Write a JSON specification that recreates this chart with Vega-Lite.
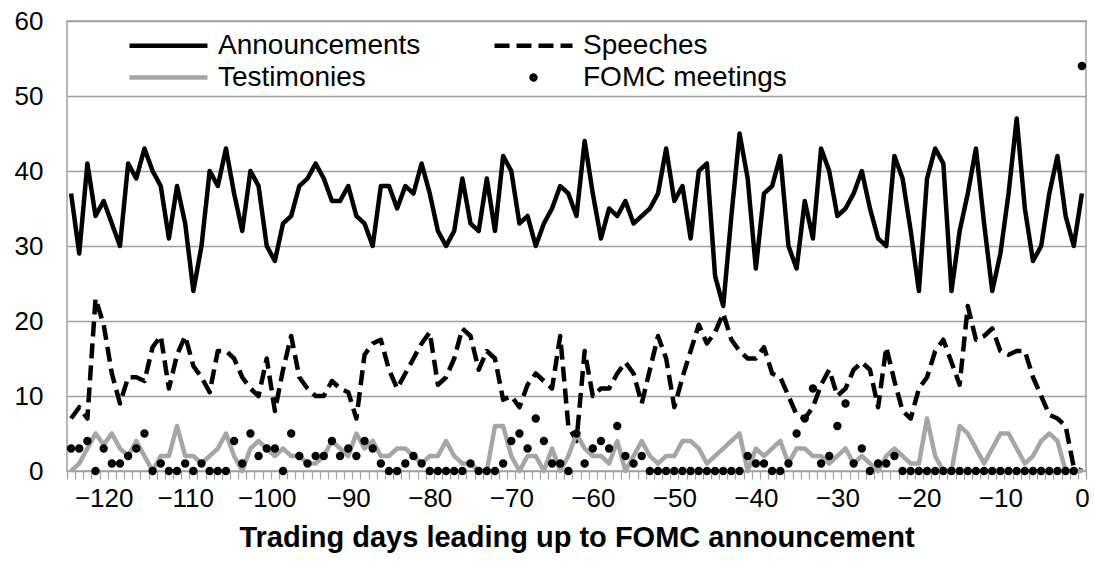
{
  "$schema": "https://vega.github.io/schema/vega-lite/v6.json",
  "width": 1019,
  "height": 450,
  "autosize": {"type": "none"},
  "padding": {"left": 67, "top": 21, "right": 8, "bottom": 96},
  "background": "white",
  "config": {
    "font": "Liberation Sans",
    "view": {"stroke": "#a0a0a0", "strokeWidth": 1.5},
    "axis": {"labelFont": "Liberation Sans", "titleFont": "Liberation Sans", "labelColor": "black", "titleColor": "black"},
    "legend": {
      "labelFont": "Liberation Sans",
      "title": null,
      "orient": "none",
      "legendX": 84,
      "legendY": 7,
      "direction": "horizontal",
      "columns": 2,
      "columnPadding": 64,
      "rowPadding": 0,
      "padding": 0,
      "labelFontSize": 28,
      "labelColor": "black",
      "labelOffset": 32,
      "symbolSize": 900,
      "symbolStrokeWidth": 4.5,
      "labelLimit": 400
    }
  },
  "data": {
    "values": [
      {"d":-124,"A":37,"S":7,"T":0,"F":3},
      {"d":-123,"A":29,"S":8.5,"T":1,"F":3},
      {"d":-122,"A":41,"S":7,"T":3,"F":4},
      {"d":-121,"A":34,"S":23,"T":5,"F":0},
      {"d":-120,"A":36,"S":19.5,"T":3.5,"F":3},
      {"d":-119,"A":33,"S":13,"T":5,"F":1},
      {"d":-118,"A":30,"S":9,"T":3,"F":1},
      {"d":-117,"A":41,"S":12.5,"T":2,"F":2},
      {"d":-116,"A":39,"S":12.5,"T":4,"F":3},
      {"d":-115,"A":43,"S":12,"T":2,"F":5},
      {"d":-114,"A":40,"S":16.5,"T":0,"F":0},
      {"d":-113,"A":38,"S":18,"T":2,"F":1},
      {"d":-112,"A":31,"S":11,"T":2,"F":0},
      {"d":-111,"A":38,"S":15.5,"T":6,"F":0},
      {"d":-110,"A":33,"S":18,"T":2,"F":1},
      {"d":-109,"A":24,"S":14,"T":2,"F":0},
      {"d":-108,"A":30,"S":12.5,"T":1,"F":1},
      {"d":-107,"A":40,"S":10.5,"T":2,"F":0},
      {"d":-106,"A":38,"S":16,"T":3,"F":0},
      {"d":-105,"A":43,"S":16,"T":5,"F":0},
      {"d":-104,"A":37,"S":15,"T":2,"F":4},
      {"d":-103,"A":32,"S":12.5,"T":0,"F":1},
      {"d":-102,"A":40,"S":11,"T":3,"F":5},
      {"d":-101,"A":38,"S":10,"T":4,"F":2},
      {"d":-100,"A":30,"S":15,"T":3,"F":3},
      {"d":-99,"A":28,"S":8,"T":2,"F":3},
      {"d":-98,"A":33,"S":13.5,"T":3,"F":0},
      {"d":-97,"A":34,"S":18,"T":2,"F":5},
      {"d":-96,"A":38,"S":12.5,"T":2,"F":2},
      {"d":-95,"A":39,"S":11,"T":1,"F":1},
      {"d":-94,"A":41,"S":10,"T":1,"F":2},
      {"d":-93,"A":39,"S":10,"T":2,"F":2},
      {"d":-92,"A":36,"S":12,"T":4,"F":4},
      {"d":-91,"A":36,"S":11,"T":3,"F":2},
      {"d":-90,"A":38,"S":10.5,"T":2,"F":3},
      {"d":-89,"A":34,"S":7,"T":5,"F":2},
      {"d":-88,"A":33,"S":15.5,"T":3,"F":4},
      {"d":-87,"A":30,"S":17,"T":4,"F":3},
      {"d":-86,"A":38,"S":17.5,"T":2,"F":1},
      {"d":-85,"A":38,"S":13.5,"T":2,"F":0},
      {"d":-84,"A":35,"S":11,"T":3,"F":0},
      {"d":-83,"A":38,"S":13,"T":3,"F":1},
      {"d":-82,"A":37,"S":15,"T":2,"F":2},
      {"d":-81,"A":41,"S":17,"T":1,"F":1},
      {"d":-80,"A":37,"S":18.5,"T":2,"F":0},
      {"d":-79,"A":32,"S":11.5,"T":2,"F":0},
      {"d":-78,"A":30,"S":12.5,"T":4,"F":0},
      {"d":-77,"A":32,"S":15,"T":2,"F":0},
      {"d":-76,"A":39,"S":19,"T":1,"F":0},
      {"d":-75,"A":33,"S":18,"T":1,"F":1},
      {"d":-74,"A":32,"S":13.5,"T":0,"F":0},
      {"d":-73,"A":39,"S":16,"T":0,"F":0},
      {"d":-72,"A":32,"S":15,"T":6,"F":0},
      {"d":-71,"A":42,"S":9.5,"T":6,"F":1},
      {"d":-70,"A":40,"S":10,"T":2,"F":4},
      {"d":-69,"A":33,"S":8.5,"T":0,"F":5},
      {"d":-68,"A":34,"S":11.5,"T":2,"F":3},
      {"d":-67,"A":30,"S":13,"T":2,"F":7},
      {"d":-66,"A":33,"S":12,"T":0,"F":4},
      {"d":-65,"A":35,"S":11,"T":3,"F":1},
      {"d":-64,"A":38,"S":18,"T":0,"F":1},
      {"d":-63,"A":37,"S":6,"T":2,"F":0},
      {"d":-62,"A":34,"S":4,"T":5,"F":5},
      {"d":-61,"A":44,"S":16,"T":3,"F":1},
      {"d":-60,"A":37,"S":10,"T":2,"F":3},
      {"d":-59,"A":31,"S":11,"T":2,"F":4},
      {"d":-58,"A":35,"S":11,"T":1,"F":3},
      {"d":-57,"A":34,"S":13,"T":4,"F":6},
      {"d":-56,"A":36,"S":14.5,"T":0,"F":2},
      {"d":-55,"A":33,"S":13,"T":2,"F":1},
      {"d":-54,"A":34,"S":9,"T":4,"F":2},
      {"d":-53,"A":35,"S":13.5,"T":2,"F":0},
      {"d":-52,"A":37,"S":18,"T":1,"F":0},
      {"d":-51,"A":43,"S":15,"T":2,"F":0},
      {"d":-50,"A":36,"S":8.5,"T":2,"F":0},
      {"d":-49,"A":38,"S":12.5,"T":4,"F":0},
      {"d":-48,"A":31,"S":16,"T":4,"F":0},
      {"d":-47,"A":40,"S":19.5,"T":3,"F":0},
      {"d":-46,"A":41,"S":17,"T":1,"F":0},
      {"d":-45,"A":26,"S":18.5,"T":2,"F":0},
      {"d":-44,"A":22,"S":21,"T":3,"F":0},
      {"d":-43,"A":34,"S":17.5,"T":4,"F":0},
      {"d":-42,"A":45,"S":16,"T":5,"F":0},
      {"d":-41,"A":39,"S":15,"T":0,"F":2},
      {"d":-40,"A":27,"S":15,"T":3,"F":1},
      {"d":-39,"A":37,"S":16.5,"T":2,"F":1},
      {"d":-38,"A":38,"S":13,"T":3,"F":0},
      {"d":-37,"A":42,"S":12.5,"T":4,"F":0},
      {"d":-36,"A":30,"S":10,"T":1,"F":1},
      {"d":-35,"A":27,"S":7.5,"T":3,"F":5},
      {"d":-34,"A":36,"S":7,"T":3,"F":7},
      {"d":-33,"A":31,"S":8.5,"T":2,"F":11},
      {"d":-32,"A":43,"S":11.5,"T":2,"F":1},
      {"d":-31,"A":40,"S":13.5,"T":1,"F":2},
      {"d":-30,"A":34,"S":10,"T":2,"F":6},
      {"d":-29,"A":35,"S":11,"T":3,"F":9},
      {"d":-28,"A":37,"S":13.5,"T":1,"F":1},
      {"d":-27,"A":40,"S":14.5,"T":2,"F":3},
      {"d":-26,"A":35,"S":13.5,"T":1,"F":0},
      {"d":-25,"A":31,"S":8.5,"T":0,"F":1},
      {"d":-24,"A":30,"S":16.5,"T":2,"F":1},
      {"d":-23,"A":42,"S":12,"T":3,"F":2},
      {"d":-22,"A":39,"S":8,"T":2,"F":0},
      {"d":-21,"A":32,"S":7,"T":1,"F":0},
      {"d":-20,"A":24,"S":11,"T":1,"F":0},
      {"d":-19,"A":39,"S":12.5,"T":7,"F":0},
      {"d":-18,"A":43,"S":16,"T":2,"F":0},
      {"d":-17,"A":41,"S":17.5,"T":0,"F":0},
      {"d":-16,"A":24,"S":14.5,"T":0,"F":0},
      {"d":-15,"A":32,"S":11.5,"T":6,"F":0},
      {"d":-14,"A":37,"S":22,"T":5,"F":0},
      {"d":-13,"A":43,"S":17.5,"T":3,"F":0},
      {"d":-12,"A":33,"S":18,"T":1,"F":0},
      {"d":-11,"A":24,"S":19,"T":3,"F":0},
      {"d":-10,"A":29,"S":16,"T":5,"F":0},
      {"d":-9,"A":37,"S":15.5,"T":5,"F":0},
      {"d":-8,"A":47,"S":16,"T":3,"F":0},
      {"d":-7,"A":35,"S":16,"T":1,"F":0},
      {"d":-6,"A":28,"S":12.5,"T":2,"F":0},
      {"d":-5,"A":30,"S":10,"T":4,"F":0},
      {"d":-4,"A":37,"S":7.5,"T":5,"F":0},
      {"d":-3,"A":42,"S":7,"T":4,"F":0},
      {"d":-2,"A":34,"S":6,"T":0,"F":0},
      {"d":-1,"A":30,"S":0.5,"T":0,"F":0},
      {"d":0,"A":37,"S":0,"T":0,"F":54}
    ]
  },
  "transform": [
    {"fold": ["A", "S", "T", "F"], "as": ["series", "value"]}
  ],
  "encoding": {
    "x": {
      "field": "d",
      "type": "quantitative",
      "scale": {"domain": [-124.5, 0.5], "nice": false, "zero": false},
      "axis": {
        "title": "Trading days leading up to FOMC announcement",
        "titleFontSize": 29,
        "titleFontWeight": "bold",
        "titlePadding": 12,
        "labelFontSize": 26,
        "labelPadding": 6,
        "labelOverlap": false,
        "labelFlush": false,
        "labelBound": false,
        "grid": false,
        "domain": false,
        "tickSize": 8,
        "tickColor": "#a0a0a0",
        "tickWidth": 1.2,
        "tickOpacity": {"condition": {"test": "datum.value % 1 === 0", "value": 0}, "value": 1},
        "labelExpr": "datum.value % 10 === 0 ? datum.label : ''",
        "values": [-124.5,-123.5,-122.5,-121.5,-120.5,-119.5,-118.5,-117.5,-116.5,-115.5,-114.5,-113.5,-112.5,-111.5,-110.5,-109.5,-108.5,-107.5,-106.5,-105.5,-104.5,-103.5,-102.5,-101.5,-100.5,-99.5,-98.5,-97.5,-96.5,-95.5,-94.5,-93.5,-92.5,-91.5,-90.5,-89.5,-88.5,-87.5,-86.5,-85.5,-84.5,-83.5,-82.5,-81.5,-80.5,-79.5,-78.5,-77.5,-76.5,-75.5,-74.5,-73.5,-72.5,-71.5,-70.5,-69.5,-68.5,-67.5,-66.5,-65.5,-64.5,-63.5,-62.5,-61.5,-60.5,-59.5,-58.5,-57.5,-56.5,-55.5,-54.5,-53.5,-52.5,-51.5,-50.5,-49.5,-48.5,-47.5,-46.5,-45.5,-44.5,-43.5,-42.5,-41.5,-40.5,-39.5,-38.5,-37.5,-36.5,-35.5,-34.5,-33.5,-32.5,-31.5,-30.5,-29.5,-28.5,-27.5,-26.5,-25.5,-24.5,-23.5,-22.5,-21.5,-20.5,-19.5,-18.5,-17.5,-16.5,-15.5,-14.5,-13.5,-12.5,-11.5,-10.5,-9.5,-8.5,-7.5,-6.5,-5.5,-4.5,-3.5,-2.5,-1.5,-0.5,0.5,-120,-110,-100,-90,-80,-70,-60,-50,-40,-30,-20,-10,0]
      }
    },
    "y": {
      "field": "value",
      "type": "quantitative",
      "scale": {"domain": [0, 60], "nice": false},
      "axis": {
        "title": null,
        "values": [0, 10, 20, 30, 40, 50, 60],
        "labelFontSize": 26,
        "labelPadding": 24,
        "ticks": false,
        "domain": false,
        "grid": true,
        "gridColor": "#a0a0a0",
        "gridWidth": 1.5
      }
    },
    "color": {
      "field": "series",
      "type": "nominal",
      "scale": {"domain": ["A", "S", "T", "F"], "range": ["#000000", "#000000", "#a6a6a6", "#000000"]},
      "legend": {
        "labelExpr": "{'A':'Announcements','S':'Speeches','T':'Testimonies','F':'FOMC meetings'}[datum.label]"
      }
    }
  },
  "layer": [
    {
      "transform": [{"filter": "datum.series !== 'F'"}],
      "mark": {"type": "line", "strokeWidth": 4.5, "strokeJoin": "round", "strokeCap": "butt"},
      "encoding": {
        "strokeDash": {
          "field": "series",
          "type": "nominal",
          "scale": {"domain": ["A", "S", "T", "F"], "range": [[1, 0], [15, 7], [1, 0], [1, 0]]},
          "legend": {
            "labelExpr": "{'A':'Announcements','S':'Speeches','T':'Testimonies','F':'FOMC meetings'}[datum.label]"
          }
        },
        "order": {"field": "d", "type": "quantitative"}
      }
    },
    {
      "transform": [{"filter": "datum.series === 'F'"}],
      "mark": {"type": "point", "filled": false, "strokeWidth": 4.5, "size": 900, "opacity": 1},
      "encoding": {
        "shape": {
          "field": "series",
          "type": "nominal",
          "scale": {"domain": ["A", "S", "T", "F"], "range": ["M-2.6,0L2.6,0", "M-2.6,0L2.6,0", "M-2.6,0L2.6,0", "M-0.13,0A0.13,0.13,0,1,1,0.13,0A0.13,0.13,0,1,1,-0.13,0Z"]},
          "legend": {
            "labelExpr": "{'A':'Announcements','S':'Speeches','T':'Testimonies','F':'FOMC meetings'}[datum.label]"
          }
        }
      }
    }
  ]
}
